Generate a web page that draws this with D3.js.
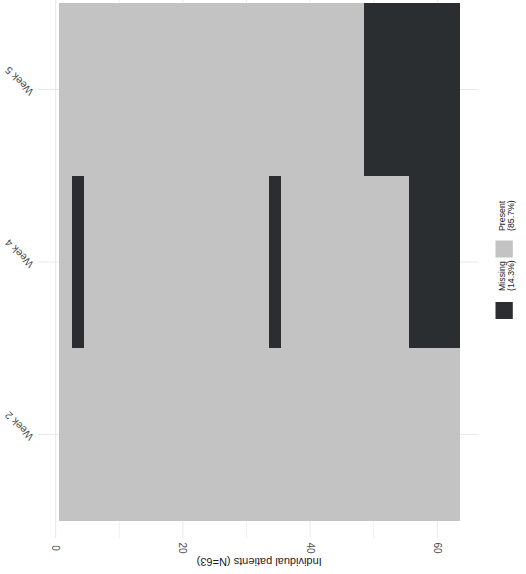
<!DOCTYPE html>
<html>
<head>
<meta charset="utf-8">
<script src="https://cdn.jsdelivr.net/npm/d3@7"></script>
<style>
  html, body { margin: 0; padding: 0; background: #ffffff; }
  svg { display: block; font-family: "Liberation Sans", Arial, sans-serif; }
</style>
</head>
<body>
<svg id="chart" width="526" height="574"></svg>
<script>
// Visits (top to bottom) and patient ids
const weeks = ["Week 5", "Week 4", "Week 2"];
const patientCount = 63;
const patients = d3.range(1, patientCount + 1);

// Patients with no record at each visit
const missingWeek2 = [];
const missingWeek4 = [3, 4, 34, 35, 56, 57, 58, 59, 60, 61, 62, 63];
const missingWeek5 = [49, 50, 51, 52, 53, 54, 55, 56, 57, 58, 59, 60, 61, 62, 63];

const xTicks = [0, 20, 40, 60];
const xMinorTicks = [10, 30, 50];
const xTitle = "Individual patients (N=63)";
const stateNames = ["Present", "Missing"];
const stateColors = { Present: "#c2c3c2", Missing: "#2b2e31" };

const missingByWeek = { "Week 2": missingWeek2, "Week 4": missingWeek4, "Week 5": missingWeek5 };

// One cell per patient per visit
const cells = [];
weeks.forEach(w => {
  const miss = new Set(missingByWeek[w]);
  patients.forEach(p => cells.push({ week: w, patient: p, state: miss.has(p) ? "Missing" : "Present" }));
});
const nMissing = cells.filter(c => c.state === "Missing").length;
const pctMissing = 100 * nMissing / cells.length;
const legendPct = { Missing: pctMissing, Present: 100 - pctMissing };

const svg = d3.select("#chart");

const x = d3.scaleLinear().domain([-2.78, 66.4]).range([38, 478]);
const y = d3.scaleBand().domain(weeks).range([3.3, 520.7]).padding(0);

// Grid
const grid = svg.append("g");
grid.selectAll("line.minor").data(xMinorTicks).join("line")
  .attr("x1", d => x(d)).attr("x2", d => x(d))
  .attr("y1", 0).attr("y2", 538)
  .attr("stroke", "#f0f0f0").attr("stroke-width", 1);
grid.selectAll("line.major").data(xTicks).join("line")
  .attr("x1", d => x(d)).attr("x2", d => x(d))
  .attr("y1", 0).attr("y2", 538)
  .attr("stroke", "#e8e8e8").attr("stroke-width", 1);
grid.selectAll("line.hmajor").data(weeks).join("line")
  .attr("x1", 38).attr("x2", 478)
  .attr("y1", d => y(d) + y.bandwidth() / 2).attr("y2", d => y(d) + y.bandwidth() / 2)
  .attr("stroke", "#e8e8e8").attr("stroke-width", 1);

// Cells
svg.append("g").attr("shape-rendering", "crispEdges")
  .selectAll("rect").data(cells).join("rect")
  .attr("x", d => x(d.patient - 0.5))
  .attr("width", d => x(d.patient + 0.5) - x(d.patient - 0.5))
  .attr("y", d => y(d.week))
  .attr("height", y.bandwidth())
  .attr("fill", d => stateColors[d.state]);

// Patient axis labels
svg.append("g").selectAll("text").data(xTicks).join("text")
  .attr("transform", d => `translate(${x(d)},548) rotate(90)`)
  .attr("text-anchor", "middle")
  .attr("dominant-baseline", "central")
  .attr("font-size", 10)
  .attr("fill", "#4d4d4d")
  .text(d => d);

svg.append("text")
  .attr("transform", `translate(${(x(0.5) + x(63.5)) / 2},562) rotate(180)`)
  .attr("text-anchor", "middle")
  .attr("dominant-baseline", "central")
  .attr("font-size", 11)
  .attr("fill", "#1a1a1a")
  .text(xTitle);

// Visit labels
svg.append("g").selectAll("text").data(weeks).join("text")
  .attr("transform", d => `translate(31.5,${y(d) + y.bandwidth() / 2 + 4.3}) rotate(225)`)
  .attr("text-anchor", "start")
  .attr("dominant-baseline", "central")
  .attr("font-size", 10.5)
  .attr("fill", "#4d4d4d")
  .text(d => d);

// Legend
const legendItems = [
  { name: "Present", keyY: 240.5, textY: 231 },
  { name: "Missing", keyY: 302, textY: 291 }
];
const lg = svg.append("g");
lg.selectAll("rect").data(legendItems).join("rect")
  .attr("x", 495.5).attr("y", d => d.keyY)
  .attr("width", 17.3).attr("height", 17)
  .attr("fill", d => stateColors[d.name]);
legendItems.forEach(d => {
  const lines = [d.name, `(${legendPct[d.name].toFixed(1)}%)`];
  lines.forEach((t, i) => {
    lg.append("text")
      .attr("transform", `translate(${505 + i * 8.6},${d.textY}) rotate(-90)`)
      .attr("text-anchor", "start")
      .attr("font-size", 8.8)
      .attr("fill", "#1a1a1a")
      .text(t);
  });
});
</script>
</body>
</html>
